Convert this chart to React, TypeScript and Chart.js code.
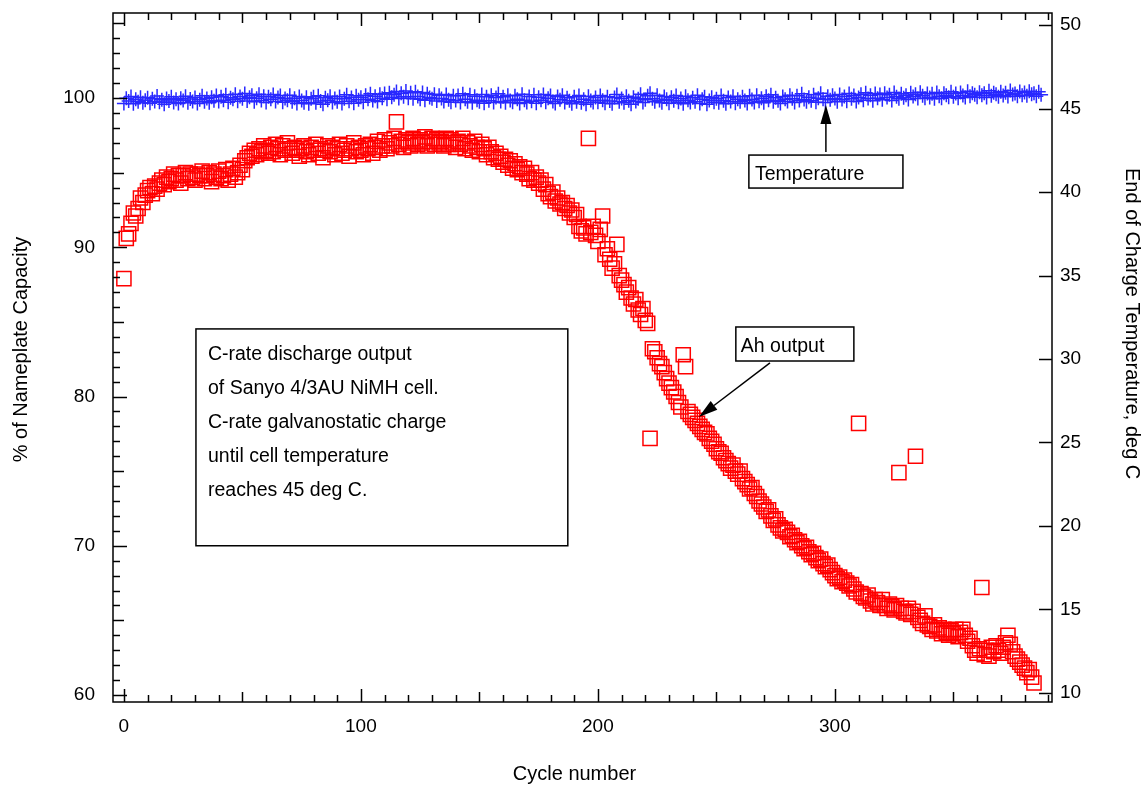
import React, { useEffect, useRef } from "react";
import { Chart, registerables } from "chart.js";

Chart.register(...registerables);

const FONT = '"Liberation Sans", Arial, Helvetica, sans-serif';

// Discharge capacity (% of nameplate), one value per cycle starting at cycle 0
const capacity = [
  87.9, 90.6, 90.9, 91.6, 92.3, 92.1, 92.6, 93.3, 93.0, 93.5,
  93.8, 94.0, 93.6, 94.1, 93.9, 94.3, 94.5, 94.2, 94.7, 94.4,
  94.6, 94.9, 94.5, 94.8, 94.3, 94.8, 95.0, 94.6, 94.9, 94.7,
  94.5, 94.9, 94.8, 95.1, 94.6, 94.8, 95.0, 94.4, 94.9, 94.7,
  95.1, 94.6, 94.8, 95.2, 94.5, 94.9, 95.3, 94.7, 95.0, 95.5,
  95.2, 95.8, 96.0, 96.3, 96.1, 96.5, 96.2, 96.6, 96.4, 96.8,
  96.5, 96.3, 96.7, 96.4, 96.9, 96.6, 96.2, 96.8, 96.5, 97.0,
  96.6, 96.3, 96.7, 96.5, 96.1, 96.6, 96.8, 96.4, 96.2, 96.7,
  96.5, 96.9, 96.3, 96.6, 96.0, 96.5, 96.8, 96.4, 96.7, 96.2,
  96.6, 96.9, 96.3, 96.5, 96.8, 96.1, 96.6, 97.0, 96.4, 96.7,
  96.5, 96.2, 96.8, 96.6, 96.9, 96.3, 96.7, 97.1, 96.5, 96.8,
  97.2, 96.6, 97.0, 96.8, 97.3, 98.4, 96.9, 97.1, 96.7, 97.2,
  97.0, 96.8, 97.3, 97.1, 96.9, 97.2, 97.0, 97.4, 96.8, 97.1,
  97.3, 96.9, 97.2, 97.0, 97.1, 96.8, 97.3, 96.9, 97.2, 97.0,
  96.7, 97.1, 96.9, 97.3, 96.6, 97.0, 96.8, 96.5, 97.1, 96.7,
  96.4, 96.9, 96.6, 96.2, 96.7, 96.4, 96.0, 96.3, 95.9, 96.1,
  95.7, 95.9, 95.5, 95.8, 95.3, 95.6, 95.2, 95.4, 95.0, 95.3,
  94.9, 94.6, 95.0, 94.5, 94.7, 94.3, 94.5, 93.9, 94.2, 93.6,
  93.4, 93.7, 93.1, 93.3, 92.9, 93.0, 92.6, 92.8, 92.3, 92.5,
  92.0, 92.2, 91.4, 91.1, 91.3, 90.9, 97.3, 91.0, 91.4, 90.8,
  90.4, 91.2, 92.1, 89.5, 89.9, 89.2, 88.6, 88.9, 90.2, 88.1,
  87.8, 87.5, 87.0, 87.3, 86.6, 86.2, 86.5, 85.8, 85.5, 85.9,
  85.1, 84.9, 77.2, 83.2, 83.0, 82.6, 82.2, 82.0, 81.6, 81.2,
  80.9, 80.6, 80.3, 80.0, 79.6, 79.3, 82.8, 82.0, 79.0, 78.8,
  78.6, 78.4, 78.2, 78.0, 77.8, 77.6, 77.5, 77.2, 77.0, 76.8,
  76.5, 76.3, 76.2, 75.9, 75.7, 75.5, 75.2, 75.4, 75.0, 74.8,
  75.0, 74.5, 74.3, 74.1, 73.8, 73.9, 73.5, 73.3, 73.0, 72.8,
  72.6, 72.3, 72.4, 72.0, 71.7, 71.8, 71.4, 71.2, 71.0, 71.1,
  70.9, 70.6, 70.7, 70.4, 70.2, 70.3, 70.0, 69.8, 69.9, 69.6,
  69.4, 69.5, 69.2, 69.0, 69.1, 68.8, 68.6, 68.7, 68.4, 68.2,
  68.0, 67.8, 67.9, 67.6, 67.7, 67.5, 67.3, 67.4, 67.1, 66.9,
  78.2, 66.8, 66.6, 66.5, 66.7, 66.3, 66.1, 66.4, 66.2, 66.0,
  66.4, 66.0, 65.8, 66.1, 65.9, 65.7, 66.0, 74.9, 65.8, 65.6,
  65.5, 65.8, 65.4, 65.6, 76.0, 65.2, 65.0, 64.8, 65.3, 64.7,
  64.6, 64.4, 64.7, 64.3, 64.5, 64.1, 64.4, 64.2, 64.0, 64.3,
  64.1, 64.4, 63.9, 64.2, 64.4, 64.0, 63.6, 63.8, 63.3, 63.0,
  62.8, 63.1, 67.2, 62.7, 63.0, 62.6, 63.2, 62.9, 63.3, 63.0,
  62.8, 63.2, 63.5, 64.0, 63.4, 62.9, 62.6, 62.4, 62.2, 62.0,
  61.8, 61.5, 61.7, 61.2, 60.8,
];

// End-of-charge temperature (deg C), one value per cycle starting at cycle 0
const temperature = [
  45.30, 45.62, 45.45, 45.72, 45.28, 45.55, 45.40, 45.68, 45.35, 45.50,
  45.65, 45.32, 45.58, 45.42, 45.75, 45.38, 45.52, 45.25, 45.60, 45.45,
  45.70, 45.36, 45.55, 45.30, 45.62, 45.48, 45.74, 45.34, 45.57, 45.42,
  45.66, 45.30, 45.52, 45.76, 45.40, 45.60, 45.35, 45.68, 45.46, 45.78,
  45.42, 45.70, 45.50, 45.82, 45.38, 45.64, 45.55, 45.85, 45.44, 45.72,
  45.58, 45.90, 45.45, 45.68, 45.80, 45.40, 45.62, 45.86, 45.48, 45.74,
  45.36, 45.70, 45.55, 45.84, 45.42, 45.66, 45.78, 45.38, 45.60, 45.50,
  45.80, 45.40, 45.62, 45.30, 45.72, 45.48, 45.35, 45.68, 45.28, 45.58,
  45.70, 45.34, 45.76, 45.45, 45.26, 45.64, 45.50, 45.74, 45.36, 45.60,
  45.40, 45.72, 45.30, 45.58, 45.82, 45.44, 45.66, 45.32, 45.76, 45.52,
  45.68, 45.38, 45.80, 45.55, 45.88, 45.48, 45.74, 45.42, 45.85, 45.62,
  45.90, 45.55, 45.95, 45.68, 45.82, 46.02, 45.60, 45.92, 45.70, 46.05,
  45.62, 45.94, 45.58, 46.00, 45.72, 45.55, 45.96, 45.50, 45.88, 45.66,
  45.58, 45.86, 45.45, 45.80, 45.60, 45.42, 45.84, 45.52, 45.38, 45.76,
  45.48, 45.78, 45.36, 45.88, 45.55, 45.40, 45.82, 45.34, 45.74, 45.50,
  45.40, 45.84, 45.32, 45.70, 45.46, 45.80, 45.36, 45.66, 45.88, 45.42,
  45.70, 45.35, 45.80, 45.48, 45.38, 45.76, 45.55, 45.30, 45.86, 45.50,
  45.36, 45.72, 45.44, 45.82, 45.32, 45.68, 45.50, 45.84, 45.38, 45.62,
  45.78, 45.42, 45.30, 45.72, 45.52, 45.80, 45.36, 45.64, 45.46, 45.28,
  45.70, 45.40, 45.78, 45.34, 45.56, 45.26, 45.74, 45.48, 45.36, 45.66,
  45.38, 45.78, 45.50, 45.32, 45.70, 45.45, 45.28, 45.66, 45.84, 45.40,
  45.60, 45.34, 45.74, 45.46, 45.26, 45.68, 45.42, 45.58, 45.86, 45.36,
  45.52, 45.76, 45.92, 45.58, 45.40, 45.80, 45.48, 45.34, 45.72, 45.55,
  45.32, 45.68, 45.46, 45.78, 45.38, 45.60, 45.28, 45.74, 45.50, 45.36,
  45.64, 45.40, 45.80, 45.30, 45.56, 45.70, 45.26, 45.48, 45.68, 45.38,
  45.58, 45.34, 45.78, 45.46, 45.28, 45.66, 45.42, 45.74, 45.32, 45.56,
  45.40, 45.70, 45.48, 45.30, 45.76, 45.54, 45.36, 45.80, 45.44, 45.62,
  45.34, 45.74, 45.50, 45.82, 45.40, 45.64, 45.46, 45.30, 45.72, 45.56,
  45.42, 45.80, 45.58, 45.36, 45.76, 45.48, 45.88, 45.54, 45.40, 45.68,
  45.46, 45.82, 45.38, 45.62, 45.92, 45.56, 45.36, 45.74, 45.52, 45.80,
  45.60, 45.40, 45.84, 45.54, 45.72, 45.44, 45.90, 45.58, 45.78, 45.42,
  45.66, 45.86, 45.50, 45.94, 45.60, 45.80, 45.46, 45.90, 45.62, 45.84,
  45.52, 45.92, 45.66, 45.82, 45.48, 45.96, 45.70, 45.58, 45.88, 45.64,
  45.80, 45.54, 45.94, 45.72, 45.86, 45.60, 45.98, 45.76, 45.62, 45.90,
  45.66, 45.88, 45.58, 45.96, 45.74, 45.62, 45.92, 45.80, 45.68, 46.00,
  45.70, 45.90, 45.62, 45.96, 45.78, 45.66, 46.04, 45.74, 45.92, 45.82,
  45.68, 45.98, 45.80, 45.92, 45.66, 46.06, 45.76, 45.94, 45.86, 45.70,
  46.00, 45.78, 45.94, 45.72, 46.08, 45.84, 45.90, 45.74, 46.02, 45.80,
  45.96, 45.76, 46.04, 45.86, 45.92, 45.74, 46.00, 45.82,
];

const xTickLabels = [0, 100, 200, 300];
const capacityTicks = [60, 70, 80, 90, 100];
const temperatureTicks = [10, 15, 20, 25, 30, 35, 40, 45, 50];

const xTitle = "Cycle number";
const yTitle = "% of Nameplate Capacity";
const y2Title = "End of Charge Temperature, deg C";

const noteLines = [
  "C-rate discharge output",
  "of Sanyo 4/3AU NiMH cell.",
  "C-rate galvanostatic charge",
  "until cell temperature",
  "reaches 45 deg C.",
];

// annotation anchors in data units (cycle, % capacity)
const noteBox = { x0: 30.4, x1: 187.3, y0: 84.53, y1: 70.0 };
const tempLabel = { text: "Temperature", x0: 263.7, x1: 328.7, y0: 96.18, y1: 93.97, ax: 296.2, ay0: 96.38, ay1: 99.53 };
const ahLabel = { text: "Ah output", x0: 258.2, x1: 308.0, y0: 84.66, y1: 82.38, ax0: 272.6, ay0: 82.25, ax1: 242.6, ay1: 78.63 };

function arrow(ctx: CanvasRenderingContext2D, x0: number, y0: number, x1: number, y1: number) {
  const ang = Math.atan2(y1 - y0, x1 - x0);
  const hl = 19, hw = 5.5;
  const bx = x1 - hl * Math.cos(ang), by = y1 - hl * Math.sin(ang);
  ctx.beginPath();
  ctx.moveTo(x0, y0);
  ctx.lineTo(bx, by);
  ctx.stroke();
  ctx.beginPath();
  ctx.moveTo(x1, y1);
  ctx.lineTo(bx + hw * Math.sin(ang), by - hw * Math.cos(ang));
  ctx.lineTo(bx - hw * Math.sin(ang), by + hw * Math.cos(ang));
  ctx.closePath();
  ctx.fill();
}

const decor = {
  id: "decor",
  afterDatasetsDraw(chart: any) {
    const { ctx, chartArea: a, scales } = chart;
    const sx = scales.x, sy = scales.y, sy2 = scales.y2;
    ctx.save();
    ctx.strokeStyle = "#000";
    ctx.fillStyle = "#000";
    ctx.lineWidth = 1.5;
    const seg = (x0: number, y0: number, x1: number, y1: number) => {
      ctx.beginPath();
      ctx.moveTo(x0, y0);
      ctx.lineTo(x1, y1);
      ctx.stroke();
    };
    // frame
    ctx.strokeRect(a.left, a.top, a.right - a.left, a.bottom - a.top);
    // x ticks (bottom and top, inward)
    for (let c = 0; c <= sx.max; c += 10) {
      const px = Math.round(sx.getPixelForValue(c)) + 0.5;
      const len = c % 100 === 0 ? 13 : c % 50 === 0 ? 10 : 7;
      seg(px, a.bottom, px, a.bottom - len);
      seg(px, a.top, px, a.top + len);
    }
    // left ticks
    for (let v = 60; v <= sy.max; v += 1) {
      const py = Math.round(sy.getPixelForValue(v)) + 0.5;
      const len = v % 10 === 0 ? 14 : v % 5 === 0 ? 11 : 7;
      seg(a.left, py, a.left + len, py);
    }
    // right ticks
    for (let t = 10; t <= sy2.max; t += 5) {
      const py = Math.round(sy2.getPixelForValue(t)) + 0.5;
      seg(a.right, py, a.right - 13, py);
    }

    ctx.font = `19.5px ${FONT}`;
    ctx.textBaseline = "alphabetic";
    ctx.textAlign = "left";
    // note box
    {
      const x0 = sx.getPixelForValue(noteBox.x0), x1 = sx.getPixelForValue(noteBox.x1);
      const y0 = sy.getPixelForValue(noteBox.y0), y1 = sy.getPixelForValue(noteBox.y1);
      ctx.fillStyle = "#fff";
      ctx.fillRect(x0, y0, x1 - x0, y1 - y0);
      ctx.strokeRect(x0, y0, x1 - x0, y1 - y0);
      ctx.fillStyle = "#000";
      noteLines.forEach((t, i) => ctx.fillText(t, x0 + 12, y0 + 31 + i * 34));
    }
    // temperature label
    {
      const L = tempLabel;
      const x0 = sx.getPixelForValue(L.x0), x1 = sx.getPixelForValue(L.x1);
      const y0 = sy.getPixelForValue(L.y0), y1 = sy.getPixelForValue(L.y1);
      ctx.fillStyle = "#fff";
      ctx.fillRect(x0, y0, x1 - x0, y1 - y0);
      ctx.strokeRect(x0, y0, x1 - x0, y1 - y0);
      ctx.fillStyle = "#000";
      ctx.fillText(L.text, x0 + 6, y0 + 25);
      const ax = sx.getPixelForValue(L.ax);
      arrow(ctx, ax, sy.getPixelForValue(L.ay0), ax, sy.getPixelForValue(L.ay1));
    }
    // Ah output label
    {
      const L = ahLabel;
      const x0 = sx.getPixelForValue(L.x0), x1 = sx.getPixelForValue(L.x1);
      const y0 = sy.getPixelForValue(L.y0), y1 = sy.getPixelForValue(L.y1);
      ctx.fillStyle = "#fff";
      ctx.fillRect(x0, y0, x1 - x0, y1 - y0);
      ctx.strokeRect(x0, y0, x1 - x0, y1 - y0);
      ctx.fillStyle = "#000";
      ctx.fillText(L.text, x0 + 5, y0 + 25);
      arrow(ctx, sx.getPixelForValue(L.ax0), sy.getPixelForValue(L.ay0), sx.getPixelForValue(L.ax1), sy.getPixelForValue(L.ay1));
    }

    // axis titles
    ctx.font = `20px ${FONT}`;
    ctx.fillStyle = "#000";
    ctx.textAlign = "center";
    ctx.fillText(xTitle, (a.left + a.right) / 2 - 8, a.bottom + 78);
    ctx.save();
    ctx.translate(a.left - 86, (a.top + a.bottom) / 2 - 8);
    ctx.rotate(-Math.PI / 2);
    ctx.fillText(yTitle, 0, 0);
    ctx.restore();
    ctx.save();
    ctx.translate(a.right + 74, a.top + 155);
    ctx.rotate(Math.PI / 2);
    ctx.textAlign = "left";
    ctx.fillText(y2Title, 0, 0);
    ctx.restore();
    ctx.restore();
  },
};

const zeroPad = (s: any) => {
  s.paddingTop = 0;
  s.paddingBottom = 0;
  s.paddingLeft = 0;
  s.paddingRight = 0;
};

export default function App() {
  const ref = useRef<HTMLCanvasElement | null>(null);
  useEffect(() => {
    if (!ref.current) return;
    const capPts = capacity.map((v, i) => ({ x: i, y: v }));
    const tempPts = temperature.map((v, i) => ({ x: i, y: v }));
    const tickFont = { family: FONT, size: 19 };
    const chart = new Chart(ref.current, {
      type: "scatter",
      data: {
        datasets: [
          {
            label: "Ah output",
            data: capPts,
            yAxisID: "y",
            pointStyle: "rect",
            pointRadius: 10,
            borderColor: "#ff0000",
            backgroundColor: "rgba(0,0,0,0)",
            borderWidth: 1.5,
            showLine: false,
          },
          {
            label: "Temperature",
            data: tempPts,
            yAxisID: "y2",
            pointStyle: "cross",
            pointRadius: 7,
            borderColor: "#2828ff",
            backgroundColor: "#2828ff",
            borderWidth: 1.5,
            showLine: false,
          },
        ],
      },
      options: {
        responsive: false,
        animation: false,
        devicePixelRatio: 1,
        events: [],
        layout: { padding: { top: 13, left: 0, right: 0, bottom: 0 } },
        plugins: { legend: { display: false }, tooltip: { enabled: false } },
        scales: {
          x: {
            type: "linear",
            position: "bottom",
            min: -4.6,
            max: 391.6,
            afterBuildTicks: (s: any) => { s.ticks = xTickLabels.map((v) => ({ value: v })); },
            afterFit: (s: any) => { s.height = 83; zeroPad(s); },
            grid: { display: false, drawTicks: false },
            border: { display: false },
            ticks: { font: tickFont, color: "#000", padding: 13, maxRotation: 0, autoSkip: false },
          },
          y: {
            type: "linear",
            position: "left",
            min: 59.53,
            max: 105.7,
            afterBuildTicks: (s: any) => { s.ticks = capacityTicks.map((v) => ({ value: v })); },
            afterFit: (s: any) => { s.width = 113; zeroPad(s); },
            grid: { display: false, drawTicks: false },
            border: { display: false },
            ticks: { font: tickFont, color: "#000", padding: 18, autoSkip: false },
          },
          y2: {
            type: "linear",
            position: "right",
            min: 9.46,
            max: 50.72,
            afterBuildTicks: (s: any) => { s.ticks = temperatureTicks.map((v) => ({ value: v })); },
            afterFit: (s: any) => { s.width = 94; zeroPad(s); },
            grid: { display: false, drawTicks: false },
            border: { display: false },
            ticks: { font: tickFont, color: "#000", padding: 8, autoSkip: false },
          },
        },
      },
      plugins: [decor],
    } as any);
    return () => chart.destroy();
  }, []);
  return (
    <div style={{ position: "absolute", left: 0, top: 0, width: 1146, height: 785, background: "#fff" }}>
      <canvas ref={ref} width={1146} height={785} style={{ display: "block" }} />
    </div>
  );
}
